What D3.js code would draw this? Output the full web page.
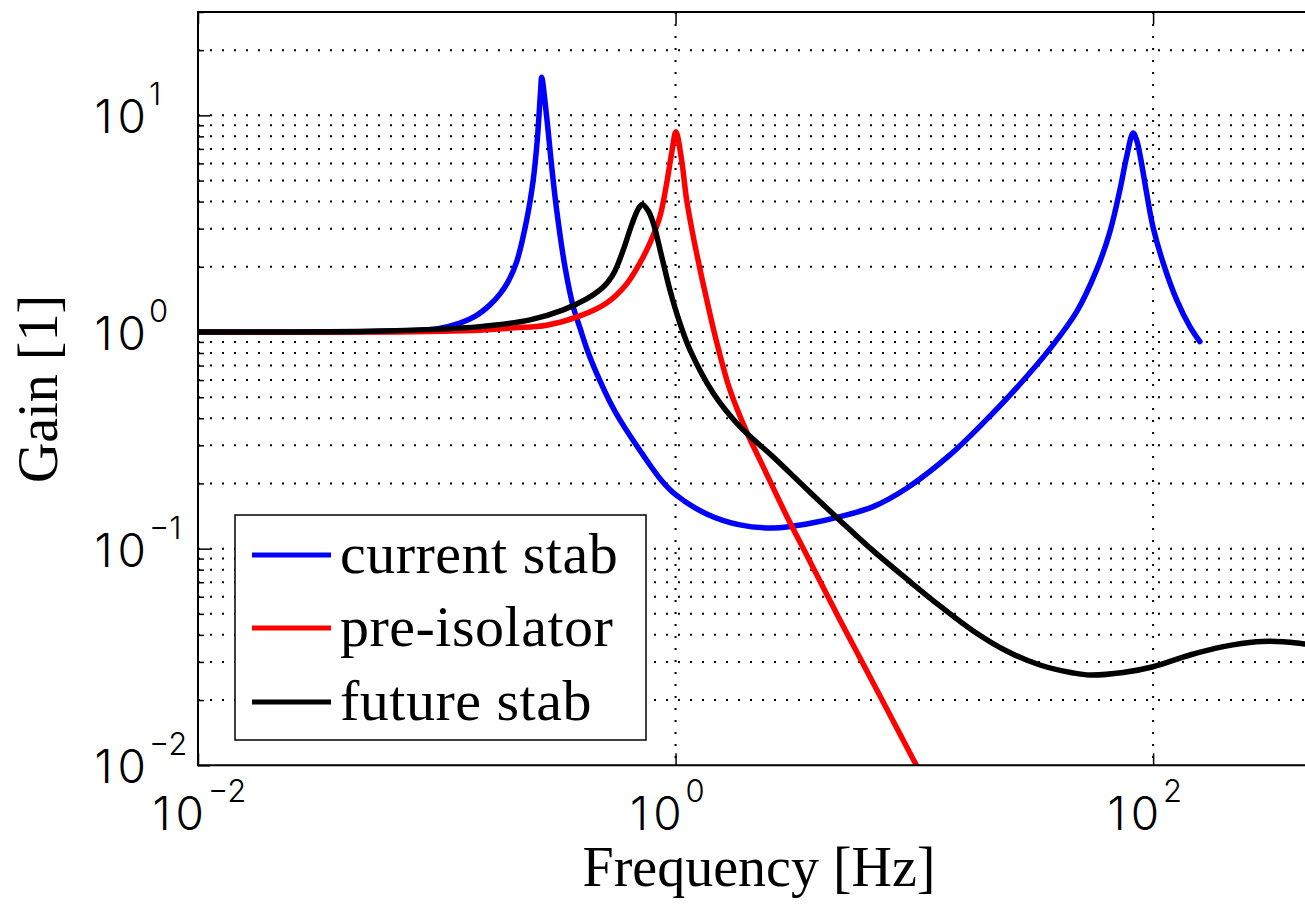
<!DOCTYPE html>
<html><head><meta charset="utf-8">
<script src="https://cdn.jsdelivr.net/npm/d3@7"></script>
<style>html,body{margin:0;padding:0;background:#fff;overflow:hidden}</style>
</head><body><svg id="c" width="1305" height="904"></svg>
<script>
// ---- data ----
const xTickValues = [0.01, 1, 100];
const xTickExponents = ["\u22122", "0", "2"];
const yTickValues = [0.01, 0.1, 1, 10];
const yTickExponents = ["\u22122", "\u22121", "0", "1"];
const seriesNames = ["current stab", "pre-isolator", "future stab"];
const seriesColors = ["#0000ff", "#ff0000", "#000000"];
const xTitle = "Frequency [Hz]";
const yTitle = "Gain [1]";

const currentStabFreq = [0.01,0.0267,0.0702,0.0999,0.125,0.1445,0.167,0.184,0.1987,0.216,0.238,0.2535,0.2636,0.2723,0.275,0.2885,0.3029,0.3177,0.3442,0.3729,0.3978,0.4297,0.4825,0.5313,0.585,0.7305,0.877,1.004,1.35,1.861,2.566,3.54,4.88,6.73,9.29,14.1,19.44,26.8,36.96,47.8,58.0,65.9,72.6,77.5,82.5,85.5,88.9,93.9,100.1,110.2,125.4,142.6,157];
const currentStabGain = [1.0,1.0,1.01,1.034,1.10,1.18,1.334,1.499,1.703,2.107,3.293,5.038,7.706,13.12,15.0,9.87,5.80,3.66,2.00,1.306,1.044,0.809,0.5946,0.4756,0.3928,0.2708,0.2054,0.177,0.1446,0.1287,0.1246,0.130,0.1405,0.1563,0.190,0.2708,0.3805,0.552,0.8356,1.238,1.935,2.898,4.53,6.45,8.30,7.62,6.23,4.39,3.024,2.085,1.41,1.059,0.903];

const preIsolatorFreq = [0.01,0.0578,0.1517,0.2091,0.2885,0.3978,0.5146,0.624,0.7094,0.781,0.86,0.918,0.963,1.004,1.06,1.113,1.186,1.286,1.393,1.486,1.69,1.985,2.33,2.92,3.54,4.29,4.88,7.04,10.2];
const preIsolatorGain = [1.0,1.0,1.02,1.045,1.075,1.187,1.362,1.667,2.085,2.57,3.41,4.86,6.69,8.4,6.23,4.07,2.76,1.797,1.212,0.900,0.540,0.3458,0.2384,0.1416,0.0935,0.0618,0.0469,0.0218,0.01];

const futureStabFreq = [0.01,0.0578,0.1517,0.2456,0.3386,0.4242,0.4825,0.521,0.5575,0.604,0.655,0.698,0.725,0.769,0.807,0.875,0.947,1.043,1.149,1.439,1.861,2.566,3.54,4.88,6.73,9.29,12.8,17.65,24.35,33.6,46.3,54.4,74.9,100,142.6,196.7,271.3,350.6,432.4,500];
const futureStabGain = [1.0,1.01,1.059,1.137,1.265,1.422,1.565,1.703,1.915,2.393,3.123,3.70,3.88,3.62,3.18,2.23,1.565,1.098,0.827,0.522,0.366,0.265,0.1886,0.135,0.0976,0.0725,0.0544,0.0417,0.0337,0.02904,0.02668,0.0261,0.0268,0.0285,0.0323,0.0353,0.0372,0.0372,0.0363,0.0356];

// ---- layout ----
const svg = d3.select("#c");
const L = 198, R = 1320, T = 12, B = 765.3;
const x = d3.scaleLog().domain([0.01, 500]).range([L, R]);
const y = d3.scaleLog().domain([0.01, 30]).range([B, T]);

const serif = "'Liberation Serif','Times New Roman',serif";
const sans = "Inter,'DejaVu Sans',sans-serif";
const LS = 5; // gap between the "1" and "0" of the tick-label mantissa

svg.append("rect").attr("width",1305).attr("height",904).attr("fill","#fff");

// grid values
const yGridVals = [];
[0.01,0.1,1,10].forEach(d => { for (let k=1;k<=9;k++){ const v=d*k; if (v<=30.0001) yGridVals.push(v);} });
const yMinorVals = yGridVals.filter(v => !yTickValues.includes(v));

const grid = svg.append("g");
grid.selectAll("line.h").data(yGridVals.filter(v=>v>0.0100001)).join("line")
  .attr("x1", L).attr("x2", R).attr("y1", d=>y(d)).attr("y2", d=>y(d))
  .attr("stroke","#000").attr("stroke-width",2).attr("stroke-dasharray","2,10");
grid.selectAll("line.v").data(xTickValues.filter(v=>v>0.01)).join("line")
  .attr("x1", d=>x(d)).attr("x2", d=>x(d)).attr("y1", T).attr("y2", B)
  .attr("stroke","#000").attr("stroke-width",2).attr("stroke-dasharray","2,10");

// clip
svg.append("clipPath").attr("id","clip").append("rect")
  .attr("x",L).attr("y",T).attr("width",R-L).attr("height",B-T);

const line = d3.line().x(d=>x(d[0])).y(d=>y(d[1])).curve(d3.curveCatmullRom.alpha(0.5));
const series = [
  [currentStabFreq, currentStabGain],
  [preIsolatorFreq, preIsolatorGain],
  [futureStabFreq, futureStabGain]
];
const curves = svg.append("g").attr("clip-path","url(#clip)");
series.forEach((s,i) => {
  const pts = s[0].map((f,j)=>[f, s[1][j]]);
  curves.append("path").datum(pts).attr("d", line)
    .attr("fill","none").attr("stroke",seriesColors[i]).attr("stroke-width",5.5)
    .attr("stroke-linejoin","round").attr("stroke-linecap","round");
});

// axes (ticks inward)
const axG = svg.append("g");
const styleAxis = g => { g.select(".domain").remove(); g.selectAll(".tick line").attr("stroke","#000").attr("stroke-width",1.5); g.selectAll("text").remove(); };
axG.append("g").attr("transform",`translate(0,${B})`)
  .call(d3.axisBottom(x).tickValues(xTickValues).tickSize(-12).tickFormat("")).call(styleAxis);
axG.append("g").attr("transform",`translate(0,${T})`)
  .call(d3.axisTop(x).tickValues(xTickValues).tickSize(-12).tickFormat("")).call(styleAxis);
axG.append("g").attr("transform",`translate(${L},0)`)
  .call(d3.axisLeft(y).tickValues(yTickValues).tickSize(-12).tickFormat("")).call(styleAxis);
axG.append("g").attr("transform",`translate(${L},0)`)
  .call(d3.axisLeft(y).tickValues(yMinorVals).tickSize(-6).tickFormat("")).call(styleAxis);

// frame
svg.append("path")
  .attr("d", `M${R},${T}H${L}V${B}H${R}`)
  .attr("fill","none").attr("stroke","#000").attr("stroke-width",2);

// tick labels
function mantissa(g, xEnd, yBase) {
  const t = g.append("text").attr("x", xEnd).attr("y", yBase).attr("text-anchor","end").attr("font-size",46);
  t.append("tspan").text("1");
  t.append("tspan").attr("dx", LS).text("0");
}
const xl = svg.append("g").attr("font-family",sans).attr("font-weight",300).attr("fill","#000");
xTickValues.forEach((v,i) => {
  mantissa(xl, x(v)+6, 830);
  xl.append("text").attr("x", x(v)+10).attr("y", 802).attr("font-size",31).text(xTickExponents[i]);
});
const yl = svg.append("g").attr("font-family",sans).attr("font-weight",300).attr("fill","#000");
yTickValues.forEach((v,i) => {
  mantissa(yl, 146, y(v)+18);
  yl.append("text").attr("x", 149).attr("y", y(v)-10).attr("font-size",31).text(yTickExponents[i]);
});

// axis titles
svg.append("text").attr("x",759).attr("y",886).attr("text-anchor","middle")
  .attr("font-family",serif).attr("font-size",56).text(xTitle);
svg.append("text").attr("transform","translate(57,389) rotate(-90)").attr("text-anchor","middle")
  .attr("font-family",serif).attr("font-size",56).text(yTitle);

// legend
const lg = svg.append("g");
lg.append("rect").attr("x",235).attr("y",515).attr("width",411).attr("height",225)
  .attr("fill","#fff").attr("stroke","#000").attr("stroke-width",1.5);
const legY = [555, 628, 702];
seriesNames.forEach((n,i) => {
  lg.append("line").attr("x1",252).attr("x2",331).attr("y1",legY[i]).attr("y2",legY[i])
    .attr("stroke",seriesColors[i]).attr("stroke-width",5);
  lg.append("text").attr("x",340).attr("y",legY[i]+18).attr("font-family",serif)
    .attr("font-size",58).attr("letter-spacing",0.5).text(n);
});
</script></body></html>
